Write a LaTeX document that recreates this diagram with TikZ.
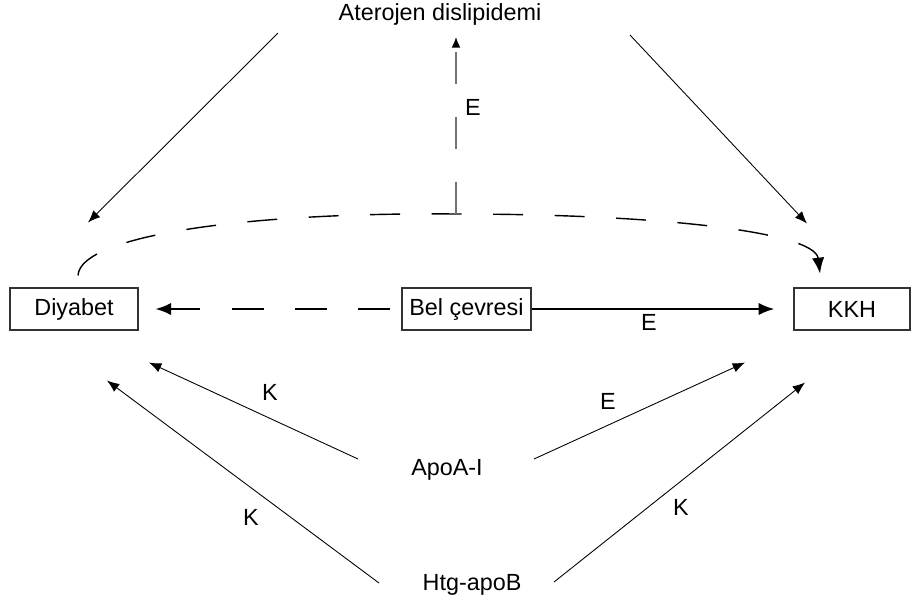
\documentclass[tikz,border=0pt]{standalone}
\usepackage{fontspec}
\setmainfont{Liberation Sans}
\usetikzlibrary{arrows.meta}

\begin{document}
\begin{tikzpicture}[
    x=0.02cm, y=-0.02cm,
    font=\fontsize{13.3}{16}\selectfont,
    box/.style={draw=black!80, line width=0.6pt, minimum width=#1,
                minimum height=0.84cm, inner sep=0pt},
    lbl/.style={inner sep=0pt},
    thinarrow/.style={draw, line width=0.5pt, -{Latex[length=7pt, width=5.5pt]}},
    boldarrow/.style={draw, line width=1.4pt, -{Latex[length=9pt, width=7pt]}},
    dashlink/.style={draw, line width=0.8pt, dash pattern=on 17pt off 18pt},
]
\useasboundingbox (0,0) rectangle (912,603);

% Ust: Aterojen dislipidemi
\node[lbl] (ath) at (440,14) {Aterojen dislipidemi};

% Orta sira
\node[box=2.56cm] (dia) at (74,309)    {Diyabet};
\node[box=2.58cm] (bel) at (466.5,309) {Bel çevresi};
\node[box=2.32cm] (kkh) at (852,309)   {KKH};

% Alt
\node[lbl] (apoa) at (447,470) {ApoA-I};
\node[lbl] (htg)  at (472,585) {Htg-apoB};

% Etiketler
\node[lbl] (e1) at (473,107) {E};
\node[lbl] (e2) at (649,322) {E};
\node[lbl] (k1) at (270,392) {K};
\node[lbl] (e3) at (608,401) {E};
\node[lbl] (k2) at (251,517) {K};
\node[lbl] (k3) at (681,507) {K};

% Aterojen -> Diyabet / KKH
\draw[thinarrow] ([shift={(-162,19)}]ath.center) -- ([shift={(14,-65)}]dia.north);
\draw[thinarrow] ([shift={(190,21)}]ath.center)  -- ([shift={(-45,-64)}]kkh.north);

% Kesikli egri: Diyabet -> KKH
\coordinate (peak) at (456,214);
\draw[dashlink, -{Latex[length=9pt, width=7pt]}]
    ([shift={(4,-12)}]dia.north) .. controls (80,235) and (250,212) .. (peak)
    .. controls (660,214) and (815,232) .. ([shift={(-32,-14)}]kkh.north);

% Dikey: egri -> Aterojen
\draw[black!55, line width=0.8pt, dash pattern=on 18pt off 19pt,
      -{Latex[length=6pt, width=5pt, color=black]}]
    (peak) -- ([shift={(16,23)}]ath.center);

% Bel cevresi -> Diyabet / KKH
\draw[boldarrow, dash pattern=on 18pt off 18pt, shorten <=6.5pt, shorten >=9.5pt]
    (bel.west) -- (dia.east);
\draw[boldarrow, shorten >=10.8pt] (bel.east) -- (kkh.west);

% ApoA-I
\draw[thinarrow] ([shift={(-89,-11)}]apoa.center) -- ([shift={(75,32)}]dia.south);
\draw[thinarrow] ([shift={(87,-11)}]apoa.center)  -- ([shift={(-107,32)}]kkh.south);

% Htg-apoB
\draw[thinarrow] ([shift={(-93,-2)}]htg.center) -- ([shift={(33,50)}]dia.south);
\draw[thinarrow] ([shift={(82,-3)}]htg.center)  -- ([shift={(-47,52)}]kkh.south);

\end{tikzpicture}
\end{document}
